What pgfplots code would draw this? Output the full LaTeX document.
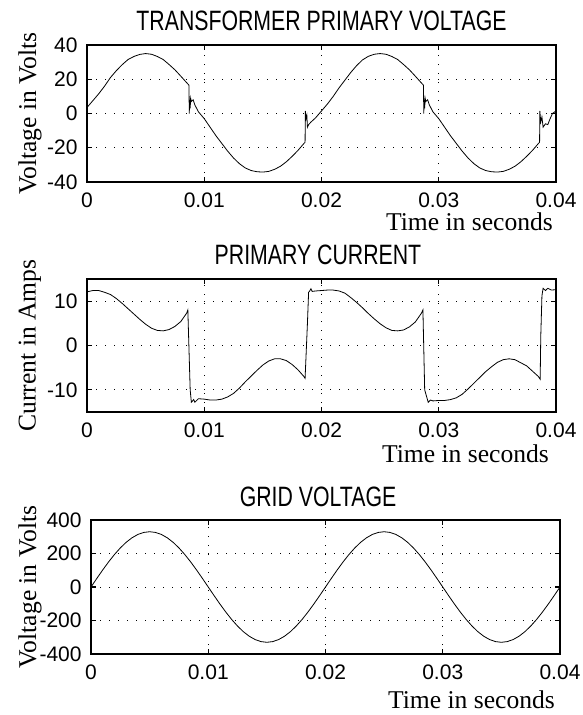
\documentclass[border=0pt]{standalone}
\usepackage{fontspec}
\setmainfont{Liberation Serif}
\newfontfamily\titlefont[FakeStretch=0.76]{Liberation Sans}
\newfontfamily\tickfont{Liberation Sans}
\usepackage{pgfplots}
\pgfplotsset{compat=1.18}

\pgfplotsset{
  scope plot/.style={
    scale only axis, width=234.5pt,
    xmin=0, xmax=0.04, scaled x ticks=false,
    xtick={0,0.01,0.02,0.03,0.04}, xticklabels={0,0.01,0.02,0.03,0.04},
    grid=major, grid style={black, line width=0.5pt, dash pattern=on 0.5pt off 4pt},
    axis line style={line width=0.9pt},
    tick style={black, line width=0.6pt}, tick align=inside, major tick length=2.5pt,
    /pgf/number format/assume math mode=true,
    ticklabel style={font=\tickfont\fontsize{10.5}{12}\selectfont},
    xticklabel style={inner sep=0pt, yshift=-5pt},
    yticklabel style={inner sep=0pt, xshift=-4.5pt},
    xlabel={Time in seconds},
    label style={font=\fontsize{12.8}{14}\selectfont},
    ylabel style={at={(rel axis cs:0,0.5)}, anchor=center, yshift=28.5pt},
    every axis title shift=0pt,
    title style={font=\titlefont\fontsize{14}{16}\selectfont,
      at={(rel axis cs:0.5,1)}, anchor=base, yshift=7pt},
    cycle list={{black, line width=0.6pt, no markers}},
  }
}

\begin{document}
\begin{tikzpicture}
\useasboundingbox (0,0) rectangle (291pt,-357.5pt);

% transformer primary voltage
\begin{axis}[scope plot, at={(43.5pt,-22.5pt)}, anchor=north west,
  height=68.5pt, ymin=-40, ymax=40, ytick={-40,-20,0,20,40},
  title={TRANSFORMER PRIMARY VOLTAGE}, ylabel={Voltage in Volts},
  xlabel style={at={(rel axis cs:1,0)}, anchor=base east, xshift=2pt, yshift=-24pt}]
\addplot coordinates {
(0,3.5)(0.0005,7.5)(0.001,11.5)(0.0015,16)(0.002,21)(0.0025,25)(0.003,28.5)
(0.0035,31.5)(0.004,33.3)(0.0045,34.5)(0.005,35)(0.0055,34.6)(0.006,33.3)
(0.0065,31.5)(0.007,28.6)(0.0075,25.5)(0.008,21.8)(0.0085,18)(0.0087,16.5)
(0.00872,0)(0.00876,8)(0.0088,3)(0.00884,9)(0.0089,7)(0.00905,8)(0.0092,5)
(0.0095,1)(0.01,-3)(0.0105,-8)(0.011,-13)(0.0115,-17.5)(0.012,-22)(0.0125,-26)
(0.013,-29.3)(0.0135,-31.8)(0.014,-33.3)(0.0145,-34)(0.015,-34.2)(0.0155,-33.8)
(0.016,-32.6)(0.0165,-30.8)(0.017,-28.2)(0.0175,-25)(0.018,-21.5)(0.0185,-17.5)
(0.0186,-16.8)(0.01862,1.5)(0.01868,-3)(0.01875,-1)(0.0188,-8)(0.0189,-6.5)
(0.0191,-5)(0.0195,-2.5)(0.02,1.5)(0.0205,5.5)(0.021,10)(0.0215,15)(0.022,19.5)
(0.0225,24)(0.023,28)(0.0235,31.3)(0.024,33.4)(0.0245,34.6)(0.025,35)(0.0255,34.6)
(0.026,33.3)(0.0265,31.5)(0.027,28.6)(0.0275,25.5)(0.028,21.8)(0.0285,18)(0.0287,16.5)
(0.02872,0)(0.02876,8)(0.0288,3)(0.02884,9)(0.0289,7)(0.02905,8)(0.0292,5)
(0.0295,1)(0.03,-3)(0.0305,-8)(0.031,-13)(0.0315,-17.5)(0.032,-22)(0.0325,-26)
(0.033,-29.3)(0.0335,-31.8)(0.034,-33.3)(0.0345,-34)(0.035,-34.2)(0.0355,-33.8)
(0.036,-32.6)(0.0365,-30.8)(0.037,-28.2)(0.0375,-25)(0.038,-21.5)(0.0385,-17.5)
(0.0386,-16.8)(0.03862,1.5)(0.0387,-5)(0.0388,-2)(0.0389,-8)(0.0391,-6)
(0.0393,-6.5)(0.0395,-3)(0.0397,0)(0.04,1.5)
};
\end{axis}

% primary current
\begin{axis}[scope plot, at={(43.5pt,-139.5pt)}, anchor=north west,
  height=66.5pt, ymin=-15, ymax=15, ytick={-10,0,10},
  title={PRIMARY CURRENT}, ylabel={Current in Amps},
  title style={xshift=-1.75pt},
  xlabel style={at={(rel axis cs:1,0)}, anchor=base east, xshift=0pt, yshift=-25pt}]
\addplot coordinates {
(0,12.1)(0.0005,12.4)(0.001,12.4)(0.0015,12)(0.002,11.5)(0.0025,10.6)(0.003,9.5)
(0.0035,8.3)(0.004,7.1)(0.0045,5.9)(0.005,4.8)(0.0055,3.9)(0.006,3.4)(0.0065,3.3)
(0.007,3.6)(0.0075,4.3)(0.008,5.4)(0.0085,7.3)(0.0086,8)(0.0088,-10)(0.0089,-12.8)
(0.0091,-12.2)(0.0092,-12.8)(0.0095,-12)(0.01,-12.1)(0.0105,-12.3)(0.011,-12.3)
(0.0115,-12.1)(0.012,-11.6)(0.0125,-10.8)(0.013,-9.6)(0.0135,-8.2)(0.014,-6.9)
(0.0145,-5.6)(0.015,-4.4)(0.0155,-3.5)(0.016,-3)(0.0165,-3)(0.017,-3.4)(0.0175,-4.3)
(0.018,-5.5)(0.0185,-7)(0.0186,-7.4)(0.0188,5)(0.0189,12)(0.019,12.3)(0.0191,12.8)
(0.0192,12.2)(0.0195,12.3)(0.02,12.4)(0.0205,12.5)(0.021,12.5)(0.0215,12.3)
(0.022,11.8)(0.0225,10.8)(0.023,9.7)(0.0235,8.5)(0.024,7.2)(0.0245,6)(0.025,4.9)
(0.0255,4)(0.026,3.4)(0.0265,3.3)(0.027,3.5)(0.0275,4.2)(0.028,5.3)(0.0285,7.2)
(0.02865,8)(0.0288,-10)(0.0291,-12.8)(0.0293,-12.3)(0.0295,-12.5)(0.03,-12.4)
(0.0305,-12.4)(0.031,-12.2)(0.0315,-11.8)(0.032,-11)(0.0325,-9.8)(0.033,-8.5)
(0.0335,-7.2)(0.034,-5.9)(0.0345,-4.8)(0.035,-3.8)(0.0355,-3.2)(0.036,-3)
(0.0365,-3.2)(0.037,-3.9)(0.0375,-4.6)(0.038,-5.8)(0.0385,-7)(0.03865,-7.6)
(0.0387,2)(0.0388,11.2)(0.0389,12.9)(0.0391,12.4)(0.0393,12.9)(0.0396,12.5)(0.04,12.6)
};
\end{axis}

% grid voltage
\begin{axis}[scope plot, at={(45.5pt,-260pt)}, anchor=north west,
  height=67pt, ymin=-400, ymax=400, ytick={-400,-200,0,200,400},
  title={GRID VOLTAGE}, ylabel={Voltage in Volts},
  title style={xshift=-3.75pt},
  ylabel style={yshift=2pt},
  xlabel style={at={(rel axis cs:1,0)}, anchor=base east, xshift=1pt, yshift=-27pt}]
\addplot coordinates {
(0,0)(0.0005,51.6)(0.001,102)(0.0015,149.8)(0.002,194)(0.0025,233.3)(0.003,267)
(0.0035,294)(0.004,313.8)(0.0045,325.9)(0.005,330)(0.0055,325.9)(0.006,313.8)
(0.0065,294)(0.007,267)(0.0075,233.3)(0.008,194)(0.0085,149.8)(0.009,102)
(0.0095,51.6)(0.01,0)(0.0105,-51.6)(0.011,-102)(0.0115,-149.8)(0.012,-194)
(0.0125,-233.3)(0.013,-267)(0.0135,-294)(0.014,-313.8)(0.0145,-325.9)(0.015,-330)
(0.0155,-325.9)(0.016,-313.8)(0.0165,-294)(0.017,-267)(0.0175,-233.3)(0.018,-194)
(0.0185,-149.8)(0.019,-102)(0.0195,-51.6)(0.02,0)(0.0205,51.6)(0.021,102)
(0.0215,149.8)(0.022,194)(0.0225,233.3)(0.023,267)(0.0235,294)(0.024,313.8)
(0.0245,325.9)(0.025,330)(0.0255,325.9)(0.026,313.8)(0.0265,294)(0.027,267)
(0.0275,233.3)(0.028,194)(0.0285,149.8)(0.029,102)(0.0295,51.6)(0.03,0)
(0.0305,-51.6)(0.031,-102)(0.0315,-149.8)(0.032,-194)(0.0325,-233.3)(0.033,-267)
(0.0335,-294)(0.034,-313.8)(0.0345,-325.9)(0.035,-330)(0.0355,-325.9)(0.036,-313.8)
(0.0365,-294)(0.037,-267)(0.0375,-233.3)(0.038,-194)(0.0385,-149.8)(0.039,-102)
(0.0395,-51.6)(0.04,0)
};
\end{axis}
\end{tikzpicture}
\end{document}
